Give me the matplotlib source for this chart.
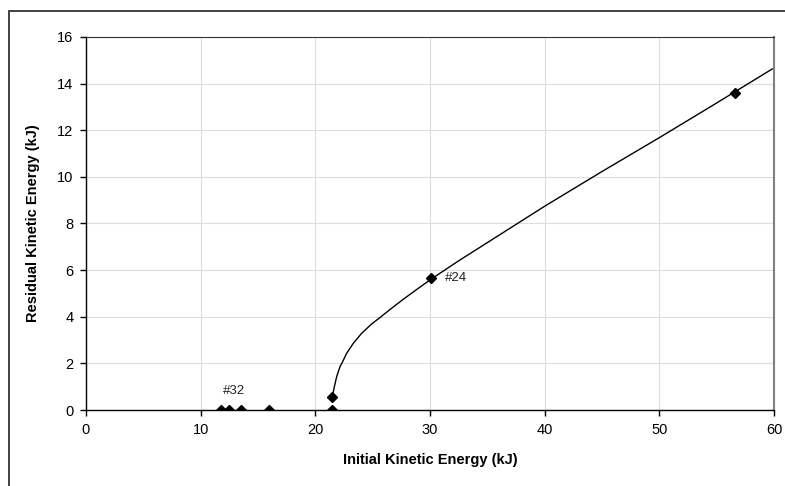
import matplotlib
matplotlib.use("Agg")
from matplotlib import pyplot as plt
from matplotlib.patches import Rectangle

plt.rcParams['font.family'] = ['Liberation Sans', 'DejaVu Sans']

# measured points
test_x = [11.74, 12.44, 13.51, 15.95, 21.45, 21.45, 30.06, 56.64]
test_y = [0.0, 0.0, 0.0, 0.0, 0.0, 0.57, 5.65, 13.59]

# fitted curve
fit_x = [21.48, 21.66, 21.86, 22.15, 22.35, 22.73, 23.31, 24.04, 24.91, 25.7,
         26.51, 27.67, 28.84, 30.06, 32.5, 35.0, 40.03, 45.0, 50.06, 55.0, 59.85]
fit_y = [0.57, 1.0, 1.43, 1.86, 2.04, 2.43, 2.86, 3.29, 3.69, 3.99,
         4.31, 4.75, 5.17, 5.6, 6.4, 7.18, 8.75, 10.23, 11.7, 13.17, 14.63]

labels = [("#32", 12.93, 0.83), ("#24", 31.3, 5.65)]

fig = plt.figure(figsize=(7.85, 4.86), dpi=100)
fig.patches.append(Rectangle((9 / 785, -0.1), 1.1, 1.1 - 11 / 486,
                             transform=fig.transFigure, fill=False,
                             edgecolor='#333333', linewidth=1.3))
ax = fig.add_axes([86 / 785, 76 / 486, 688 / 785, 373 / 486])

ax.plot(fit_x, fit_y, color='black', lw=1.0, zorder=3)
ax.plot(test_x, test_y, linestyle='none', marker='D', markersize=5,
        color='black', zorder=4)
for txt, x, y in labels:
    ha = 'center' if txt == "#32" else 'left'
    ax.text(x, y, txt, fontsize=9.5, ha=ha, va='center', color='#222222')

ax.set_xlim(0, 60)
ax.set_ylim(0, 16)
ax.set_xticks(range(0, 61, 10))
ax.set_yticks(range(0, 17, 2))
ax.grid(True, color='#dddddd', lw=0.8)
ax.set_axisbelow(True)
ax.tick_params(direction='out', length=4, width=1, labelsize=10.5, pad=5)

for s in ['left', 'bottom']:
    ax.spines[s].set_color('black')
    ax.spines[s].set_linewidth(1.0)
ax.spines['top'].set_color('#333333')
ax.spines['right'].set_color('#808080')
ax.spines['right'].set_linewidth(1.5)

ax.set_xlabel('Initial Kinetic Energy (kJ)', fontsize=10.5, fontweight='bold', labelpad=12)
ax.set_ylabel('Residual Kinetic Energy (kJ)', fontsize=10.5, fontweight='bold', labelpad=12)

fig.savefig('out.png', dpi=100)
